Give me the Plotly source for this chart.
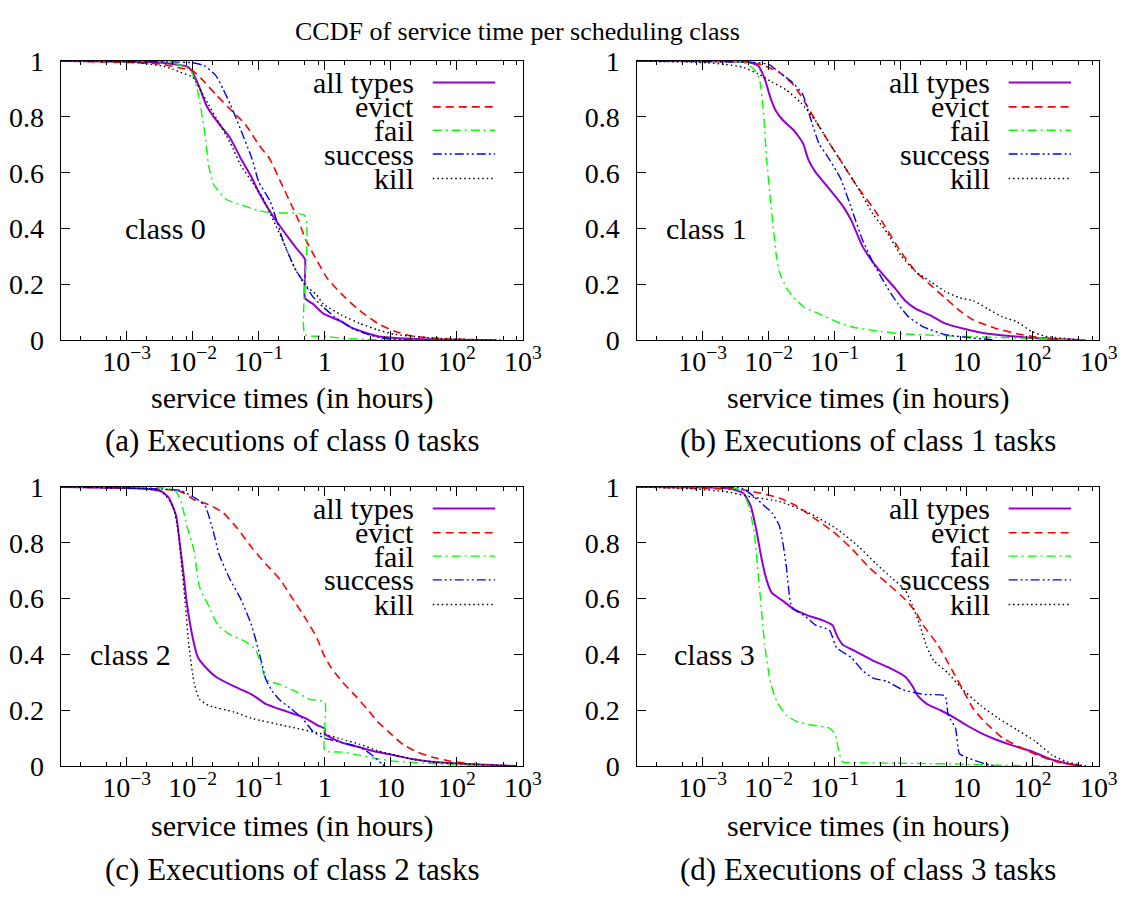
import plotly.graph_objects as go

FONT = "'Liberation Serif', 'Times New Roman', serif"
W, H = 1146, 904

# ---------------------------------------------------------------------------
# CCDF data: service time in hours (x) and fraction of executions above it (y)
# ---------------------------------------------------------------------------

# class 0
c0_all_h = [0.0001, 0.00316, 0.00832, 0.01, 0.0129, 0.0162, 0.0224, 0.0363, 0.0537, 0.0794, 0.1, 0.158,
            0.275, 0.355, 0.5, 0.5, 0.661, 0.955, 1.82, 2.63, 6.31, 11.7, 39.8, 100, 398]
c0_all_p = [1.0, 0.995, 0.98, 0.96, 0.90, 0.84, 0.79, 0.727, 0.65, 0.58, 0.53, 0.45,
            0.37, 0.335, 0.29, 0.15, 0.13, 0.095, 0.066, 0.043, 0.014, 0.008, 0.003, 0.001, 0.0]
c0_evict_h = [0.0001, 0.00316, 0.00646, 0.01, 0.0135, 0.0224, 0.0417, 0.0617, 0.1, 0.148, 0.214, 0.309,
              0.398, 0.513, 0.741, 1.10, 2.04, 3.39, 6.31, 11.7, 21.9, 41.7, 77.6, 145, 398]
c0_evict_p = [1.0, 0.99, 0.975, 0.965, 0.937, 0.88, 0.815, 0.775, 0.70, 0.648, 0.567, 0.487,
              0.43, 0.36, 0.29, 0.22, 0.152, 0.106, 0.06, 0.031, 0.014, 0.008, 0.004, 0.002, 0.0]
c0_fail_h = [0.0001, 0.00501, 0.00933, 0.0117, 0.0135, 0.0155, 0.0174, 0.0209, 0.0324, 0.0603, 0.1, 0.166,
             0.5, 0.5, 0.955, 2.04, 4.37, 11.7]
c0_fail_p = [1.0, 0.995, 0.965, 0.90, 0.82, 0.73, 0.625, 0.556, 0.504, 0.481, 0.464, 0.456,
             0.446, 0.02, 0.014, 0.006, 0.003, 0.0]
c0_success_h = [0.0001, 0.01, 0.0151, 0.0224, 0.0288, 0.0372, 0.0537, 0.0794, 0.1, 0.148, 0.186, 0.240,
                0.355, 0.501, 0.661, 0.955, 1.41, 2.34, 3.39, 6.31, 11.7, 21.9]
c0_success_p = [1.0, 0.994, 0.983, 0.948, 0.90, 0.844, 0.752, 0.648, 0.567, 0.498, 0.43, 0.348,
                0.256, 0.20, 0.155, 0.118, 0.083, 0.048, 0.031, 0.01, 0.003, 0.0]
c0_kill_h = [0.0001, 0.001, 0.00182, 0.00339, 0.00501, 0.00646, 0.01, 0.0135, 0.0174, 0.0224, 0.0372, 0.0537,
             0.0794, 0.115, 0.166, 0.240, 0.355, 0.501, 0.741, 0.955, 1.82, 3.39, 6.31, 11.7, 21.9, 41.7,
             145, 501]
c0_kill_p = [1.0, 0.997, 0.992, 0.983, 0.971, 0.96, 0.942, 0.89, 0.844, 0.798, 0.706, 0.625,
             0.567, 0.51, 0.43, 0.348, 0.256, 0.198, 0.164, 0.129, 0.089, 0.06, 0.037, 0.02, 0.014, 0.008,
             0.002, 0.0]

# class 1
c1_all_h = [0.0001, 0.00417, 0.00537, 0.00692, 0.00871, 0.0107, 0.0129, 0.0166, 0.024, 0.0331, 0.0398,
            0.0513, 0.0741, 0.107, 0.138, 0.178, 0.263, 0.380, 0.550, 0.813, 1.17, 1.70, 2.82, 4.68, 9.77,
            20.9, 50.1, 95.5, 331, 631]
c1_all_p = [1.0, 0.998, 0.994, 0.983, 0.937, 0.867, 0.821, 0.787, 0.752, 0.706, 0.648,
            0.602, 0.556, 0.51, 0.475, 0.43, 0.337, 0.279, 0.233, 0.187, 0.141, 0.112, 0.089, 0.06, 0.039,
            0.023, 0.014, 0.008, 0.002, 0.0]
c1_evict_h = [0.0001, 0.00537, 0.00871, 0.0145, 0.024, 0.0347, 0.0513, 0.0832, 0.138, 0.229, 0.380,
              0.631, 1.02, 1.70, 2.82, 4.68, 7.76, 12.6, 26.9, 57.5, 120, 331, 631]
c1_evict_p = [1.0, 0.995, 0.983, 0.96, 0.913, 0.856, 0.787, 0.706, 0.625, 0.544, 0.475,
              0.394, 0.314, 0.245, 0.198, 0.152, 0.106, 0.072, 0.043, 0.023, 0.01, 0.003, 0.0]
c1_fail_h = [0.0001, 0.00417, 0.00603, 0.00724, 0.00832, 0.00933, 0.0107, 0.0129, 0.0145, 0.0186, 0.024,
             0.0347, 0.0575, 0.107, 0.178, 0.380, 1.02, 3.63, 26.9, 95.5, 331, 631]
c1_fail_p = [1.0, 0.995, 0.971, 0.937, 0.821, 0.648, 0.498, 0.314, 0.245, 0.187, 0.152,
             0.118, 0.095, 0.066, 0.048, 0.035, 0.023, 0.017, 0.01, 0.006, 0.002, 0.0]
c1_success_h = [0.0001, 0.00631, 0.01, 0.0145, 0.024, 0.0331, 0.0427, 0.0575, 0.0832, 0.123, 0.178,
                0.263, 0.380, 0.631, 0.912, 1.32, 2.19, 4.68, 9.77, 20.9, 26.9]
c1_success_p = [1.0, 0.995, 0.988, 0.96, 0.919, 0.879, 0.798, 0.706, 0.648, 0.579, 0.475,
                0.36, 0.279, 0.187, 0.129, 0.083, 0.048, 0.02, 0.01, 0.003, 0.0]
c1_kill_h = [0.0001, 0.000316, 0.00117, 0.00224, 0.00417, 0.00692, 0.0112, 0.0186, 0.0309, 0.0513,
             0.0832, 0.138, 0.229, 0.380, 0.631, 1.02, 1.70, 2.82, 4.68, 7.76, 12.6, 20.9, 34.7, 57.5,
             95.5, 155, 331, 562]
c1_kill_p = [1.0, 0.998, 0.994, 0.988, 0.977, 0.954, 0.925, 0.896, 0.85, 0.787,
             0.706, 0.625, 0.544, 0.452, 0.383, 0.302, 0.245, 0.21, 0.175, 0.152, 0.141, 0.112, 0.083, 0.066,
             0.031, 0.014, 0.005, 0.0]

# class 2
c2_all_h = [0.0001, 0.00182, 0.00339, 0.00437, 0.00562, 0.00631, 0.00724, 0.00813, 0.01, 0.012, 0.0155,
            0.0224, 0.0417, 0.0776, 0.129, 0.275, 0.513, 0.759, 1.0, 1.0, 1.12, 1.82, 3.39, 6.31, 11.7,
            22.4, 41.7, 145, 501, 794]
c2_all_p = [1.0, 0.994, 0.983, 0.96, 0.896, 0.804, 0.689, 0.585, 0.459, 0.389, 0.355,
            0.32, 0.286, 0.257, 0.222, 0.194, 0.171, 0.147, 0.134, 0.115, 0.107, 0.084, 0.067, 0.05, 0.038,
            0.024, 0.015, 0.007, 0.002, 0.0]
c2_evict_h = [0.0001, 0.00631, 0.0105, 0.0174, 0.0288, 0.0479, 0.0794, 0.129, 0.214, 0.309, 0.513,
              0.759, 0.955, 1.23, 1.82, 2.63, 4.37, 6.31, 9.12, 15.1, 25.1, 41.7, 77.6, 145, 269, 501]
c2_evict_p = [1.0, 0.985, 0.954, 0.937, 0.908, 0.85, 0.781, 0.723, 0.666, 0.608, 0.528,
              0.459, 0.401, 0.355, 0.303, 0.263, 0.205, 0.159, 0.124, 0.078, 0.05, 0.032, 0.018, 0.009, 0.003,
              0.0]
c2_fail_h = [0.0001, 0.00437, 0.00562, 0.00676, 0.00813, 0.0105, 0.0126, 0.0174, 0.024, 0.0372, 0.0617,
             0.0891, 0.115, 0.129, 0.214, 0.355, 0.575, 1.0, 1.0, 1.82, 3.39, 6.31, 11.7, 41.7, 145, 316]
c2_fail_p = [1.0, 0.995, 0.983, 0.942, 0.862, 0.77, 0.643, 0.574, 0.505, 0.47, 0.447,
             0.418, 0.343, 0.309, 0.291, 0.268, 0.24, 0.228, 0.055, 0.05, 0.038, 0.026, 0.017, 0.009, 0.003,
             0.0]
c2_success_h = [0.0001, 0.00631, 0.00813, 0.012, 0.0155, 0.02, 0.0251, 0.0372, 0.0537, 0.0776, 0.1,
                0.129, 0.166, 0.214, 0.309, 0.457, 0.661, 0.955, 1.82, 3.39, 4.90, 7.24, 8.13]
c2_success_p = [1.0, 0.988, 0.977, 0.954, 0.931, 0.85, 0.758, 0.666, 0.597, 0.505, 0.412,
                0.309, 0.263, 0.234, 0.205, 0.171, 0.124, 0.101, 0.084, 0.067, 0.044, 0.009, 0.0]
c2_kill_h = [0.0001, 0.00182, 0.00339, 0.00501, 0.00603, 0.00676, 0.00776, 0.00871, 0.0105, 0.0126,
             0.0174, 0.0417, 0.0776, 0.275, 1.0, 1.82, 3.39, 6.31, 11.7, 22.4, 41.7, 145, 501, 794]
c2_kill_p = [1.0, 0.994, 0.983, 0.931, 0.839, 0.724, 0.574, 0.435, 0.297, 0.24,
             0.217, 0.194, 0.171, 0.142, 0.113, 0.096, 0.078, 0.055, 0.038, 0.023, 0.015, 0.007, 0.002, 0.0]

# class 3
c3_all_h = [0.0001, 0.00251, 0.00417, 0.00537, 0.00646, 0.00776, 0.00933, 0.0112, 0.0166, 0.024, 0.0398,
            0.0661, 0.0933, 0.107, 0.132, 0.204, 0.380, 0.631, 1.17, 1.51, 1.82, 2.51, 4.07, 6.76, 9.77,
            16.2, 26.9, 50.1, 95.5, 178, 331, 550]
c3_all_p = [1.0, 0.995, 0.977, 0.931, 0.85, 0.747, 0.666, 0.62, 0.591, 0.562, 0.539,
            0.522, 0.504, 0.47, 0.435, 0.412, 0.378, 0.355, 0.32, 0.286, 0.251, 0.222, 0.199, 0.171, 0.147,
            0.119, 0.096, 0.073, 0.053, 0.026, 0.009, 0.0]
c3_evict_h = [0.0001, 0.00398, 0.00776, 0.0145, 0.0269, 0.0513, 0.0955, 0.178, 0.331, 0.631, 1.17,
              1.70, 2.19, 3.63, 6.03, 8.71, 12.6, 18.6, 34.7, 64.6, 120, 229, 427, 550]
c3_evict_p = [1.0, 0.99, 0.977, 0.96, 0.931, 0.885, 0.839, 0.781, 0.712, 0.654, 0.597,
              0.551, 0.505, 0.435, 0.343, 0.274, 0.205, 0.159, 0.101, 0.067, 0.038, 0.015, 0.003, 0.0]
c3_fail_h = [0.0001, 0.00316, 0.00417, 0.00501, 0.00603, 0.00724, 0.00871, 0.0107, 0.0135, 0.0186,
             0.0269, 0.0447, 0.0832, 0.102, 0.115, 0.132, 0.229, 2.19, 7.76, 26.9, 95.5, 200]
c3_fail_p = [1.0, 0.995, 0.977, 0.931, 0.839, 0.643, 0.435, 0.297, 0.228, 0.182,
             0.159, 0.147, 0.136, 0.113, 0.055, 0.015, 0.012, 0.009, 0.007, 0.003, 0.001, 0.0]
c3_success_h = [0.0001, 0.00398, 0.00603, 0.00871, 0.0112, 0.0145, 0.0166, 0.0186, 0.0214, 0.024,
                0.0347, 0.0513, 0.0832, 0.107, 0.178, 0.263, 0.380, 0.631, 1.05, 2.19, 4.68, 5.25, 6.76,
                7.76, 11.2, 18.6, 26.9]
c3_success_p = [1.0, 0.995, 0.965, 0.931, 0.908, 0.862, 0.793, 0.712, 0.585, 0.562,
                0.539, 0.505, 0.487, 0.424, 0.389, 0.343, 0.315, 0.303, 0.274, 0.257, 0.251, 0.182, 0.136,
                0.044, 0.026, 0.009, 0.0]
c3_kill_h = [0.0001, 0.000631, 0.00224, 0.00537, 0.0145, 0.0398, 0.107, 0.229, 0.427, 0.708, 1.17,
             1.51, 1.95, 2.51, 3.16, 5.25, 8.71, 16.2, 30.2, 57.5, 107, 200, 331, 550, 708]
c3_kill_p = [1.0, 0.994, 0.983, 0.965, 0.948, 0.908, 0.85, 0.787, 0.724, 0.677, 0.631,
             0.574, 0.505, 0.424, 0.378, 0.332, 0.274, 0.217, 0.171, 0.13, 0.09, 0.038, 0.015, 0.003, 0.0]

# axis labels
series_names = ["all types", "evict", "fail", "success", "kill"]
x_tick_vals = [1e-3, 1e-2, 1e-1, 1, 10, 100, 1000]
x_tick_text = ["10<sup>−3</sup>", "10<sup>−2</sup>", "10<sup>−1</sup>", "1", "10",
               "10<sup>2</sup>", "10<sup>3</sup>"]
y_tick_vals = [0, 0.2, 0.4, 0.6, 0.8, 1]
y_tick_text = ["0", "0.2", "0.4", "0.6", "0.8", "1"]
class_labels = ["class 0", "class 1", "class 2", "class 3"]
captions = ["(a) Executions of class 0 tasks", "(b) Executions of class 1 tasks",
            "(c) Executions of class 2 tasks", "(d) Executions of class 3 tasks"]
x_title = "service times (in hours)"
fig_title = "CCDF of service time per scheduling class"

panels = [
    [(c0_all_h, c0_all_p), (c0_evict_h, c0_evict_p), (c0_fail_h, c0_fail_p),
     (c0_success_h, c0_success_p), (c0_kill_h, c0_kill_p)],
    [(c1_all_h, c1_all_p), (c1_evict_h, c1_evict_p), (c1_fail_h, c1_fail_p),
     (c1_success_h, c1_success_p), (c1_kill_h, c1_kill_p)],
    [(c2_all_h, c2_all_p), (c2_evict_h, c2_evict_p), (c2_fail_h, c2_fail_p),
     (c2_success_h, c2_success_p), (c2_kill_h, c2_kill_p)],
    [(c3_all_h, c3_all_p), (c3_evict_h, c3_evict_p), (c3_fail_h, c3_fail_p),
     (c3_success_h, c3_success_p), (c3_kill_h, c3_kill_p)],
]

# ---------------------------------------------------------------------------
# styling
# ---------------------------------------------------------------------------
line_styles = [
    dict(color="#9400D3", width=2.0, dash="solid"),
    dict(color="#FF0000", width=1.6, dash="8px,5px"),
    dict(color="#00FF00", width=1.4, dash="9px,4px,2px,4px"),
    dict(color="#0000FF", width=1.4, dash="9px,3px,2px,3px,2px,3px"),
    dict(color="#000000", width=1.4, dash="1.5px,3px"),
]

# plot-area edges in pixels
col_px = [(61.7, 531.7), (647.3, 1117.3)]
row_px = [(47.7, 336.7), (488.7, 777.7)]
# legend / label placement inside a plot area (fractions of the area)
legend_text_x = 0.769
legend_line_x = (0.805, 0.940)
legend_rows_y = [0.923, 0.836, 0.752, 0.667, 0.579]
class_label_pos = [(-2.42, 0.40), (-2.94, 0.40), (-2.94, 0.40), (-2.82, 0.40)]
axis_title_y_px = [397, 840]
caption_y_px = [441, 885]

minor_vals = [m * 10.0 ** k for k in range(-4, 3) for m in (2, 5, 8)]

fig = go.Figure()
layout = dict(
    width=W, height=H,
    margin=dict(l=0, r=0, t=0, b=0),
    paper_bgcolor="white", plot_bgcolor="white",
    showlegend=False,
    font=dict(family=FONT, color="black", size=28),
)
annotations = []
shapes = []

for i, series in enumerate(panels):
    r, c = divmod(i, 2)
    n = "" if i == 0 else str(i + 1)
    xa, ya = "x" + n, "y" + n
    x0, x1 = col_px[c]
    y0, y1 = row_px[r]

    for (h, p), st in zip(series, line_styles):
        fig.add_trace(go.Scatter(x=h, y=p, mode="lines", line=dict(shape="spline", smoothing=0.5, **st),
                                 xaxis=xa, yaxis=ya, hoverinfo="skip"))

    common = dict(showline=True, linecolor="black", linewidth=1.4, mirror="ticks",
                  ticks="inside", ticklen=9, tickwidth=1.2, tickcolor="black",
                  showgrid=False, zeroline=False)
    layout["xaxis" + n] = dict(
        type="log", range=[-4, 3], domain=[x0 / W, x1 / W], anchor=ya,
        tickmode="array", tickvals=x_tick_vals, ticktext=x_tick_text,
        tickfont=dict(family=FONT, size=28, color="black"), ticklabelstandoff=-4,
        minor=dict(ticks="inside", ticklen=4, tickwidth=1, tickcolor="black",
                   tickmode="array", tickvals=minor_vals, showgrid=False),
        **common)
    layout["yaxis" + n] = dict(
        range=[0, 1], domain=[1 - y1 / H, 1 - y0 / H], anchor=xa,
        tickmode="array", tickvals=y_tick_vals, ticktext=y_tick_text,
        tickfont=dict(family=FONT, size=28, color="black"), ticklabelstandoff=10,
        **common)

    # legend drawn inside the plot area: label on the left, line sample on the right
    for name, st, ly in zip(series_names, line_styles, legend_rows_y):
        annotations.append(dict(text=name, xref=xa + " domain", yref=ya + " domain",
                                x=legend_text_x, y=ly, xanchor="right", yanchor="middle",
                                showarrow=False, font=dict(family=FONT, size=30, color="black")))
        shapes.append(dict(type="line", xref=xa + " domain", yref=ya + " domain",
                           x0=legend_line_x[0], x1=legend_line_x[1], y0=ly, y1=ly,
                           line=st))

    cx, cy = class_label_pos[i]
    annotations.append(dict(text=class_labels[i], xref=xa, yref=ya, x=cx, y=cy,
                            xanchor="center", yanchor="middle", showarrow=False,
                            font=dict(family=FONT, size=30, color="black")))
    mid = (x0 + x1) / 2 / W
    annotations.append(dict(text=x_title, xref="paper", yref="paper", x=mid,
                            y=1 - axis_title_y_px[r] / H, xanchor="center", yanchor="middle",
                            showarrow=False, font=dict(family=FONT, size=30, color="black")))
    annotations.append(dict(text=captions[i], xref="paper", yref="paper", x=mid,
                            y=1 - caption_y_px[r] / H, xanchor="center", yanchor="middle",
                            showarrow=False, font=dict(family=FONT, size=31, color="black")))

annotations.append(dict(text=fig_title, xref="paper", yref="paper", x=526 / W, y=1 - 17 / H,
                        xanchor="center", yanchor="middle", showarrow=False,
                        font=dict(family=FONT, size=26, color="black")))

layout["annotations"] = annotations
layout["shapes"] = shapes
fig.update_layout(**layout)
fig.write_html("out.html")
